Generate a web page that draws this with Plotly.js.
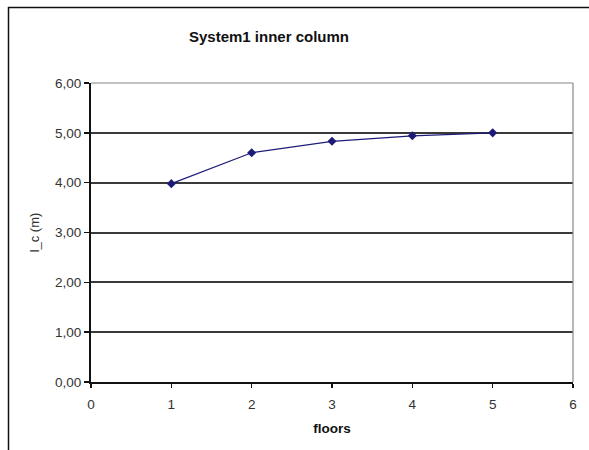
<!DOCTYPE html>
<html>
<head>
<meta charset="utf-8">
<script src="https://cdn.plot.ly/plotly-3.0.1.min.js"></script>
<style>
html,body{margin:0;padding:0;background:#fff;}
#chart{width:589px;height:450px;}
</style>
</head>
<body>
<div id="chart"></div>
<script>
const floors = [1, 2, 3, 4, 5];
const lc = [3.98, 4.60, 4.83, 4.94, 5.00];
const xTicks = [0, 1, 2, 3, 4, 5, 6];
const yTicks = [0, 1, 2, 3, 4, 5, 6];

const trace = {
  x: floors,
  y: lc,
  type: 'scatter',
  mode: 'lines+markers',
  line: {color: '#1c1c78', width: 1.2},
  marker: {symbol: 'diamond', size: 7, color: '#1c1c78'},
  hoverinfo: 'skip'
};

const W = 589, H = 450;
const L = 91, R = 16, T = 83, B = 68;
const pw = W - L - R, ph = H - T - B;
function px(x){ return (x - L) / pw; }
function py(y){ return (H - B - y) / ph; }

const layout = {
  width: W, height: H,
  margin: {l: L, r: R, t: T, b: B, pad: 0},
  paper_bgcolor: '#fff',
  plot_bgcolor: '#fff',
  separators: ', ',
  font: {family: 'Liberation Sans, Arial, sans-serif', color: '#222', size: 13},
  showlegend: false,
  title: {
    text: 'System1 inner column',
    font: {family: 'Liberation Sans, Arial, sans-serif', size: 15, color: '#111', weight: 'bold'},
    x: px(269), xref: 'paper', xanchor: 'center',
    y: 1 - 37 / H, yref: 'container', yanchor: 'middle'
  },
  xaxis: {
    range: [0, 6],
    tickvals: xTicks,
    ticktext: xTicks.map(String),
    showgrid: false,
    zeroline: false,
    showline: true, linecolor: '#111', linewidth: 2,
    ticks: 'outside', ticklen: 4, tickcolor: '#111', tickwidth: 1.5,
    ticklabelstandoff: 5,
    tickfont: {size: 13.5, color: '#333'},
    title: {text: 'floors', font: {size: 13.5, color: '#111', weight: 'bold'}, standoff: 12},
    fixedrange: true
  },
  yaxis: {
    range: [0, 6],
    tickvals: yTicks,
    tickformat: '.2f',
    showgrid: true, gridcolor: '#3a3a3a', gridwidth: 2,
    zeroline: false,
    showline: true, linecolor: '#111', linewidth: 2,
    ticks: 'outside', ticklen: 5, tickcolor: '#111', tickwidth: 1.5,
    tickfont: {size: 13.5, color: '#333'},
    title: {text: 'l_c (m)', font: {size: 13, color: '#333'}, standoff: 12},
    fixedrange: true
  },
  shapes: [
    {type: 'line', xref: 'paper', yref: 'paper', x0: 1, x1: 1, y0: 0, y1: 1,
     line: {color: '#888', width: 1.2}},
    {type: 'line', xref: 'paper', yref: 'paper', x0: 0, x1: 1, y0: 1, y1: 1,
     line: {color: '#888', width: 1.2}},
    {type: 'rect', xref: 'paper', yref: 'paper',
     x0: px(8.5), x1: px(600), y0: py(7.5), y1: py(470),
     line: {color: '#111', width: 1.5}, fillcolor: 'rgba(0,0,0,0)', layer: 'below'}
  ]
};

Plotly.newPlot('chart', [trace], layout, {displayModeBar: false, staticPlot: true});
</script>
</body>
</html>
